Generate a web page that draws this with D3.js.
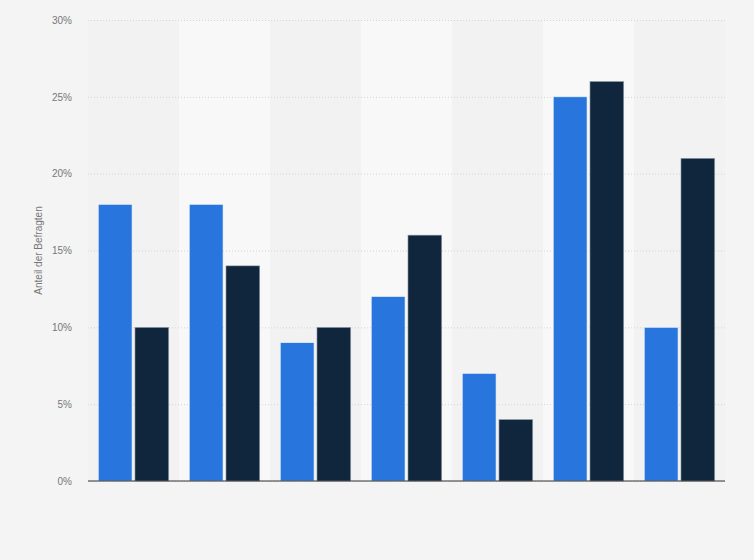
<!DOCTYPE html>
<html>
<head>
<meta charset="utf-8">
<script src="https://cdn.jsdelivr.net/npm/d3@7"></script>
<style>
  html, body { margin: 0; padding: 0; background: #f4f4f4; }
  svg { display: block; font-family: "Liberation Sans", Arial, sans-serif; }
</style>
</head>
<body>
<div id="chart"></div>
<script>
// data
const categories = ["A", "B", "C", "D", "E", "F", "G"];
const seriesNames = ["Serie 1", "Serie 2"];
const series1 = [18, 18, 9, 12, 7, 25, 10];
const series2 = [10, 14, 10, 16, 4, 26, 21];
const yTicks = [0, 5, 10, 15, 20, 25, 30];

const width = 754, height = 560;
const margin = { top: 20, right: 29, bottom: 79, left: 88 };
const colors = ["#2876dd", "#0f263d"];

const svg = d3.select("#chart").append("svg")
  .attr("width", width)
  .attr("height", height);

svg.append("rect")
  .attr("width", width).attr("height", height)
  .attr("fill", "#f4f4f4");

const x = d3.scaleBand()
  .domain(categories)
  .range([margin.left, width - margin.right]);

const xInner = d3.scaleBand()
  .domain(seriesNames)
  .range([0, x.bandwidth()])
  .paddingInner(0.08)
  .paddingOuter(0.28);

const y = d3.scaleLinear()
  .domain([0, 30])
  .range([height - margin.bottom, margin.top]);

// alternating column bands
svg.append("g")
  .selectAll("rect")
  .data(categories)
  .join("rect")
    .attr("x", d => x(d))
    .attr("y", margin.top)
    .attr("width", x.bandwidth())
    .attr("height", y(0) - margin.top)
    .attr("fill", (d, i) => i % 2 ? "#f8f8f8" : "#f2f2f2");

// grid + tick labels
const yAxis = svg.append("g")
  .attr("transform", `translate(${margin.left},0)`)
  .call(d3.axisLeft(y)
    .tickValues(yTicks)
    .tickSize(-(width - margin.left - margin.right))
    .tickPadding(16)
    .tickFormat(d => d + "%"));
yAxis.select(".domain").remove();
yAxis.selectAll(".tick line")
  .attr("stroke", "#d4d4d4")
  .attr("stroke-dasharray", "1,2");
yAxis.selectAll(".tick text")
  .attr("fill", "#777")
  .attr("font-size", 10);

// bars
const rows = categories.map((c, i) => ({ cat: c, values: [series1[i], series2[i]] }));

svg.append("g")
  .selectAll("g")
  .data(rows)
  .join("g")
    .attr("transform", d => `translate(${x(d.cat)},0)`)
  .selectAll("rect")
  .data(d => d.values.map((v, j) => ({ key: seriesNames[j], value: v, j })))
  .join("rect")
    .attr("x", d => xInner(d.key))
    .attr("y", d => y(d.value))
    .attr("width", xInner.bandwidth())
    .attr("height", d => y(0) - y(d.value))
    .attr("fill", d => colors[d.j])
    .attr("stroke", d => d.j ? "#9aa4ae" : "#e8f0fb")
    .attr("stroke-width", 0.6);

// baseline
svg.append("line")
  .attr("x1", margin.left).attr("x2", width - margin.right)
  .attr("y1", y(0)).attr("y2", y(0))
  .attr("stroke", "#333").attr("stroke-width", 1.2);

// y label
svg.append("text")
  .attr("transform", `translate(42,${(margin.top + y(0)) / 2}) rotate(-90)`)
  .attr("text-anchor", "middle")
  .attr("fill", "#777")
  .attr("font-size", 10)
  .text("Anteil der Befragten");
</script>
</body>
</html>
